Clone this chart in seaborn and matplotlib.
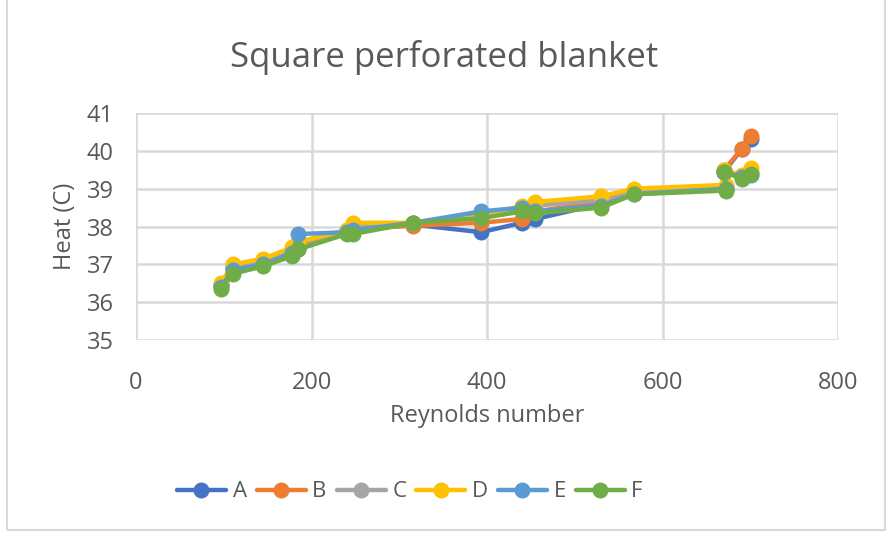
import seaborn as sns
import pandas as pd
import matplotlib.pyplot as plt
from matplotlib.lines import Line2D
from matplotlib.patches import Rectangle

# Reynolds numbers (x) shared by the six series
reynolds = [97, 110, 145, 178, 185, 240, 247, 316, 393, 440, 455, 530, 567, 672, 670, 690, 700]

heat_a = [36.45, 36.9, 37.05, 37.3, 37.4, 37.85, 37.9, 38.05, 37.85, 38.1, 38.2, 38.6, 38.9, 39.0, 39.45, 40.05, 40.3]
heat_b = [36.45, 36.9, 37.05, 37.35, 37.45, 37.85, 37.95, 38.02, 38.1, 38.2, 38.4, 38.65, 38.95, 39.0, 39.5, 40.05, 40.4]
heat_c = [36.45, 36.95, 37.1, 37.4, 37.55, 37.9, 38.0, 38.1, 38.3, 38.5, 38.55, 38.7, 38.95, 39.05, 39.45, 39.3, 39.45]
heat_d = [36.5, 37.0, 37.15, 37.45, 37.6, 37.9, 38.1, 38.1, 38.25, 38.55, 38.65, 38.8, 39.0, 39.1, 39.5, 39.35, 39.55]
heat_e = [36.4, 36.85, 37.0, 37.3, 37.8, 37.85, 37.9, 38.1, 38.4, 38.5, 38.4, 38.55, 38.85, 39.0, 39.45, 39.3, 39.35]
heat_f = [36.35, 36.75, 36.95, 37.22, 37.4, 37.8, 37.8, 38.1, 38.22, 38.4, 38.35, 38.5, 38.85, 38.95, 39.45, 39.25, 39.4]

series_names = ['A', 'B', 'C', 'D', 'E', 'F']
colors = ['#4472C4', '#ED7D31', '#A5A5A5', '#FFC000', '#5B9BD5', '#70AD47']


def build_frame():
    rows = []
    for name, vals in zip(series_names, [heat_a, heat_b, heat_c, heat_d, heat_e, heat_f]):
        for x, y in zip(reynolds, vals):
            rows.append({'Reynolds': x, 'Heat': y, 'Series': name})
    return pd.DataFrame(rows)


def main():
    sns.set_style('white')
    plt.rcParams['font.family'] = ['Open Sans', 'DejaVu Sans']
    text_color = '#595959'
    grid_color = '#D9D9D9'

    df = build_frame()
    fig = plt.figure(figsize=(8.89, 5.33), dpi=100)
    ax = fig.add_axes([0.153, 0.362, 0.79, 0.426])

    sns.lineplot(data=df, x='Reynolds', y='Heat', hue='Series', palette=colors,
                 estimator=None, sort=False, units='Series', marker='o',
                 markersize=11.5, markeredgewidth=0, linewidth=3.2,
                 legend=False, ax=ax)

    ax.set_xlim(0, 800)
    ax.set_ylim(35, 41)
    ax.set_xticks([0, 200, 400, 600, 800])
    ax.set_yticks([35, 36, 37, 38, 39, 40, 41])
    ax.grid(True, color=grid_color, linewidth=1.8)
    ax.set_axisbelow(True)
    for s in ax.spines.values():
        s.set_visible(False)
    ax.tick_params(length=0, labelsize=17, labelcolor=text_color)
    ax.tick_params(axis='x', pad=22)
    ax.tick_params(axis='y', pad=16)
    ax.set_xlabel('Reynolds number', fontsize=17, color=text_color, labelpad=7)
    ax.set_ylabel('Heat (C)', fontsize=17, color=text_color, labelpad=7)
    fig.text(0.5, 0.893, 'Square perforated blanket', ha='center', va='center',
             fontsize=25, color=text_color)

    handles = [Line2D([], [], color=c, marker='o', markersize=11.5, markeredgewidth=0,
                      linewidth=3.2) for c in colors]
    fig.legend(handles, series_names, loc='center', bbox_to_anchor=(0.461, 0.077),
               ncol=6, frameon=False, fontsize=16, labelcolor=text_color,
               handlelength=2.2, columnspacing=0.45, handletextpad=0.3)

    fig.patches.append(Rectangle((0.008, 0.006), 0.987, 1.2, transform=fig.transFigure,
                                 fill=False, edgecolor=grid_color, linewidth=1.5))
    fig.savefig('out.png', dpi=100)


if __name__ == '__main__':
    main()
